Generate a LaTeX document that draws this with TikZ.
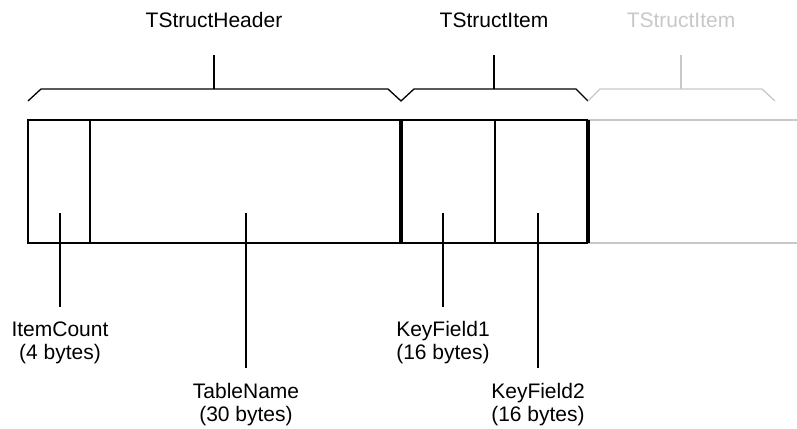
\documentclass[tikz,border=0pt]{standalone}
\usepackage{fontspec}
\setmainfont{Liberation Sans}
\definecolor{faded}{RGB}{200,200,200}
\begin{document}
\begin{tikzpicture}[x=1pt,y=-1pt,
  thinline/.style={line width=1.3pt,black},
  field/.style={draw,thinline,rectangle,anchor=north west,inner sep=0pt,outer sep=0pt,minimum height=123pt},
  divider/.style={line width=4pt,black},
  lbl/.style={font=\fontsize{21}{23}\selectfont,align=center,inner sep=0pt,anchor=north},
  title/.style={font=\fontsize{21}{23}\selectfont,inner sep=0pt,anchor=base},
  lead/.style={thinline,shorten >=15pt},
  ghost/.style={line width=1.3pt,faded}]
\useasboundingbox (0,0) rectangle (797,428);

% record fields
\node[field,minimum width=62pt] (ic) at (28,120) {};
\node[field,minimum width=311pt] (tn) at (90,120) {};
\node[field,minimum width=94pt] (k1) at (401,120) {};
\node[field,minimum width=93pt] (k2) at (495,120) {};

% faded continuation of the next item
\draw[ghost] (k2.north east) -- (797,120);
\draw[ghost] (k2.south east) -- (797,243);

% struct boundaries
\draw[divider] (tn.north east) -- (tn.south east);
\draw[divider] (k2.north east) -- (k2.south east);

% braces
\draw[thinline,line join=miter] (28,101) -- (41,89) -- (388,89) -- (401,101) -- (414,89) -- (576,89) -- (588,101);
\draw[ghost] (588,101) -- (600,89) -- (762,89) -- (775,101);

% brace titles
\node[title] (th) at (214,28) {TStructHeader};
\node[title] (ti) at (494,28) {TStructItem};
\node[title,text=faded] (tg) at (681,28) {TStructItem};
\coordinate (thb) at (214,89);
\coordinate (tib) at (494,89);
\coordinate (tgb) at (681,89);
\draw[thinline] (thb) -- (214,55);
\draw[thinline] (tib) -- (494,55);
\draw[ghost] (tgb) -- (681,55);

% field labels
\coordinate (icp) at (60,213);
\coordinate (tnp) at (246,213);
\coordinate (k1p) at (443,213);
\coordinate (k2p) at (538,213);
\node[lbl] (icl) at (60,321.5) {ItemCount\\(4 bytes)};
\node[lbl] (tnl) at (246,383) {TableName\\(30 bytes)};
\node[lbl] (k1l) at (443,321.5) {KeyField1\\(16 bytes)};
\node[lbl] (k2l) at (538,383) {KeyField2\\(16 bytes)};
\draw[lead] (icp) -- (icl.north);
\draw[lead] (tnp) -- (tnl.north);
\draw[lead] (k1p) -- (k1l.north);
\draw[lead] (k2p) -- (k2l.north);
\end{tikzpicture}
\end{document}
